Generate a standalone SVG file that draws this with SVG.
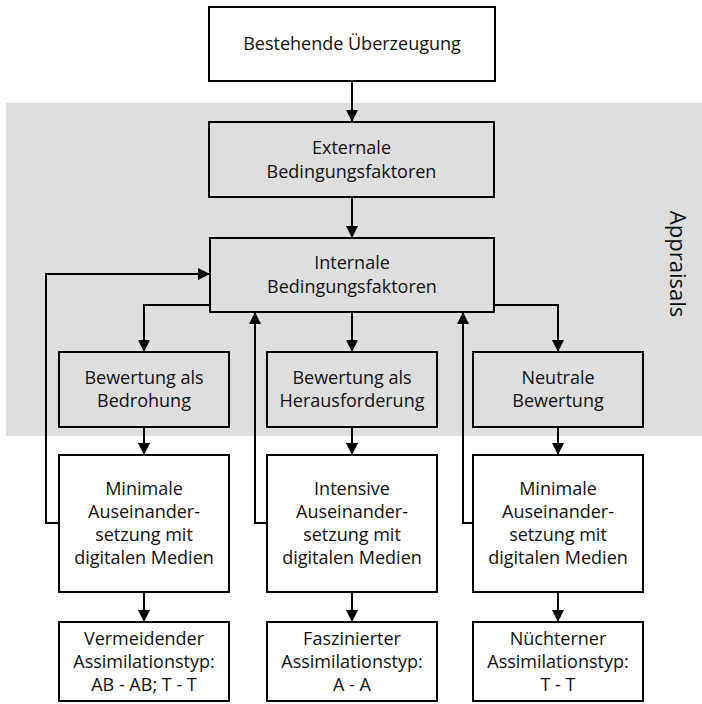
<svg xmlns="http://www.w3.org/2000/svg" width="702" height="704" viewBox="0 0 702 704">
  <defs>
    <marker id="arrow" viewBox="0 0 12 12" refX="12" refY="6" markerWidth="12" markerHeight="12" markerUnits="userSpaceOnUse" orient="auto">
      <path d="M0,0 L12,6 L0,12 Z" fill="#000"/>
    </marker>
    <style>
      .box { stroke: #000; stroke-width: 2; }
      .plain { fill: #fff; }
      .shaded { fill: #dedede; }
      .lbl { font-family: "Open Sans", "Liberation Sans", sans-serif; font-size: 18px; fill: #111; text-anchor: middle; }
      .edge { fill: none; stroke: #000; stroke-width: 2; marker-end: url(#arrow); }
      .side { font-family: "Open Sans", "Liberation Sans", sans-serif; font-size: 22px; fill: #111; text-anchor: middle; }
    </style>
  </defs>

  <rect width="702" height="704" fill="#fff"/>

  <!-- appraisal band -->
  <rect x="6" y="103" width="696" height="333" fill="#dedede"/>
  <text class="side" transform="translate(678,264) rotate(90)" y="8">Appraisals</text>

  <g id="belief">
    <rect class="box plain" x="209" y="7" width="286" height="74"/>
    <text class="lbl" x="352" y="50">Bestehende Überzeugung</text>
  </g>

  <g id="external">
    <rect class="box shaded" x="209" y="122" width="285" height="75"/>
    <text class="lbl" x="351.5" y="154">Externale</text>
    <text class="lbl" x="351.5" y="178">Bedingungsfaktoren</text>
  </g>

  <g id="internal">
    <rect class="box shaded" x="210" y="238" width="284" height="74"/>
    <text class="lbl" x="352" y="269">Internale</text>
    <text class="lbl" x="352" y="293">Bedingungsfaktoren</text>
  </g>

  <g id="threat">
    <rect class="box shaded" x="59" y="352" width="170" height="75"/>
    <text class="lbl" x="144" y="384">Bewertung als</text>
    <text class="lbl" x="144" y="407">Bedrohung</text>
  </g>

  <g id="challenge">
    <rect class="box shaded" x="267" y="352" width="170" height="75"/>
    <text class="lbl" x="352" y="384">Bewertung als</text>
    <text class="lbl" x="352" y="407">Herausforderung</text>
  </g>

  <g id="neutral">
    <rect class="box shaded" x="473" y="352" width="170" height="75"/>
    <text class="lbl" x="558" y="384">Neutrale</text>
    <text class="lbl" x="558" y="407">Bewertung</text>
  </g>

  <g id="engage-min-1">
    <rect class="box plain" x="59" y="455" width="170" height="137"/>
    <text class="lbl" x="144" y="495">Minimale</text>
    <text class="lbl" x="144" y="518">Auseinander-</text>
    <text class="lbl" x="144" y="541">setzung mit</text>
    <text class="lbl" x="144" y="564">digitalen Medien</text>
  </g>

  <g id="engage-intensive">
    <rect class="box plain" x="267" y="455" width="170" height="137"/>
    <text class="lbl" x="352" y="495">Intensive</text>
    <text class="lbl" x="352" y="518">Auseinander-</text>
    <text class="lbl" x="352" y="541">setzung mit</text>
    <text class="lbl" x="352" y="564">digitalen Medien</text>
  </g>

  <g id="engage-min-2">
    <rect class="box plain" x="473" y="455" width="170" height="137"/>
    <text class="lbl" x="558" y="495">Minimale</text>
    <text class="lbl" x="558" y="518">Auseinander-</text>
    <text class="lbl" x="558" y="541">setzung mit</text>
    <text class="lbl" x="558" y="564">digitalen Medien</text>
  </g>

  <g id="type-avoiding">
    <rect class="box plain" x="59" y="622" width="170" height="79"/>
    <text class="lbl" x="144" y="645">Vermeidender</text>
    <text class="lbl" x="144" y="668">Assimilationstyp:</text>
    <text class="lbl" x="144" y="691">AB - AB; T - T</text>
  </g>

  <g id="type-fascinated">
    <rect class="box plain" x="267" y="622" width="170" height="79"/>
    <text class="lbl" x="352" y="645">Faszinierter</text>
    <text class="lbl" x="352" y="668">Assimilationstyp:</text>
    <text class="lbl" x="352" y="691">A - A</text>
  </g>

  <g id="type-sober">
    <rect class="box plain" x="473" y="622" width="170" height="79"/>
    <text class="lbl" x="558" y="645">Nüchterner</text>
    <text class="lbl" x="558" y="668">Assimilationstyp:</text>
    <text class="lbl" x="558" y="691">T - T</text>
  </g>

  <g id="connectors">
    <path class="edge" d="M352,81 V122"/>
    <path class="edge" d="M352,197 V238"/>
    <!-- branches out of the internal factors -->
    <path class="edge" d="M210,305 H144 V352"/>
    <path class="edge" d="M352,312 V352"/>
    <path class="edge" d="M494,305 H558 V352"/>
    <!-- appraisal to engagement -->
    <path class="edge" d="M144,427 V455"/>
    <path class="edge" d="M352,427 V455"/>
    <path class="edge" d="M558,427 V455"/>
    <!-- engagement to type -->
    <path class="edge" d="M144,592 V622"/>
    <path class="edge" d="M352,592 V622"/>
    <path class="edge" d="M558,592 V622"/>
    <!-- feedback loops -->
    <path class="edge" d="M59,523 H46 V274 H210"/>
    <path class="edge" d="M267,523 H255 V312"/>
    <path class="edge" d="M473,523 H463 V312"/>
  </g>
</svg>
